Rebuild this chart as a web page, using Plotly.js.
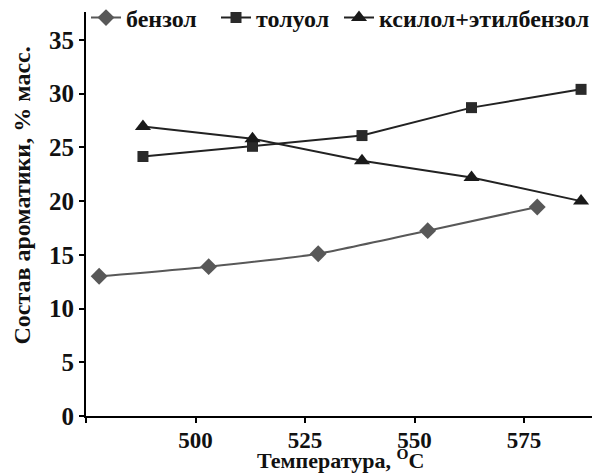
<!DOCTYPE html>
<html>
<head>
<meta charset="utf-8">
<script src="https://cdn.plot.ly/plotly-3.0.1.min.js"></script>
<style>html,body{margin:0;padding:0;background:#fff;}#chart{width:596px;height:473px;}</style>
</head>
<body>
<div id="chart"></div>
<script>
var benzeneT = [478, 503, 528, 553, 578];
var benzeneY = [13.0, 13.9, 15.1, 17.25, 19.45];
var tolueneT = [488, 513, 538, 563, 588];
var tolueneY = [24.15, 25.1, 26.1, 28.7, 30.4];
var xyleneT = [488, 513, 538, 563, 588];
var xyleneY = [26.95, 25.8, 23.75, 22.2, 20.0];
var seriesNames = ['бензол', 'толуол', 'ксилол+этилбензол'];
var xTickVals = [475, 500, 525, 550, 575];
var xTickText = ['', '500', '525', '550', '575'];
var yTickVals = [0, 5, 10, 15, 20, 25, 30, 35];
var yTickText = ['0', '5', '10', '15', '20', '25', '30', '35'];

var FONT = '"Liberation Serif", "Times New Roman", serif';
function b(s) { return s === '' ? '' : '<b>' + s + '</b>'; }

var traces = [
  {x: benzeneT, y: benzeneY, name: b(seriesNames[0]), mode: 'lines+markers', type: 'scatter',
   line: {color: '#585858', width: 2, shape: 'spline', smoothing: 0.5},
   marker: {symbol: 'diamond', size: 13, color: '#585858'}, legend: 'legend'},
  {x: tolueneT, y: tolueneY, name: b(seriesNames[1]), mode: 'lines+markers', type: 'scatter',
   line: {color: '#222', width: 2},
   marker: {symbol: 'square', size: 11, color: '#2a2a2a'}, legend: 'legend2'},
  {x: xyleneT, y: xyleneY, name: b(seriesNames[2]), mode: 'lines+markers', type: 'scatter',
   line: {color: '#222', width: 2},
   marker: {symbol: 'triangle-up', size: 14, color: '#1a1a1a'}, legend: 'legend3'}
];

var legFont = {family: FONT, size: 24, color: '#111'};
function leg(x) {
  return {x: x, y: 1 - 18 / 473, xanchor: 'left', yanchor: 'middle', xref: 'container', yref: 'container',
          orientation: 'h', bgcolor: 'rgba(0,0,0,0)', borderwidth: 0, font: legFont,
          itemwidth: 30, tracegroupgap: 0};
}

var layout = {
  width: 596, height: 473,
  margin: {l: 86, r: 4, t: 12, b: 57, autoexpand: false},
  paper_bgcolor: '#fff', plot_bgcolor: '#fff',
  showlegend: true,
  legend: leg(86 / 596),
  legend2: leg(216 / 596),
  legend3: leg(339 / 596),
  xaxis: {
    range: [475, 590.5], tickvals: xTickVals, ticktext: xTickText.map(b),
    showgrid: false, zeroline: false, showline: true, linecolor: '#000', linewidth: 2,
    ticks: 'outside', ticklen: 5, tickwidth: 2, tickcolor: '#000', automargin: false,
    ticklabelstandoff: -3,
    tickfont: {family: FONT, size: 23, color: '#111'}
  },
  yaxis: {
    range: [0, 37.6], tickvals: yTickVals, ticktext: yTickText.map(b),
    showgrid: false, zeroline: false, showline: true, linecolor: '#000', linewidth: 2,
    ticks: 'outside', ticklen: 5, tickwidth: 2, tickcolor: '#000', automargin: false,
    tickfont: {family: FONT, size: 25, color: '#111'}
  },
  annotations: [{
    text: '<b>Состав ароматики, % масс.</b>', xref: 'paper', yref: 'paper',
    x: -0.127, y: 0.545, xanchor: 'center', yanchor: 'middle', showarrow: false, textangle: -90,
    font: {family: FONT, size: 24, color: '#111'}
  }, {
    text: '<b>Температура, <sup>O</sup>C</b>', xref: 'paper', yref: 'paper',
    x: 0.502, y: -(474 - 416) / 404, xanchor: 'center', yanchor: 'bottom', showarrow: false,
    borderpad: 0, font: {family: FONT, size: 22, color: '#111'}
  }]
};

Plotly.newPlot('chart', traces, layout, {displayModeBar: false, staticPlot: true});
</script>
</body>
</html>
